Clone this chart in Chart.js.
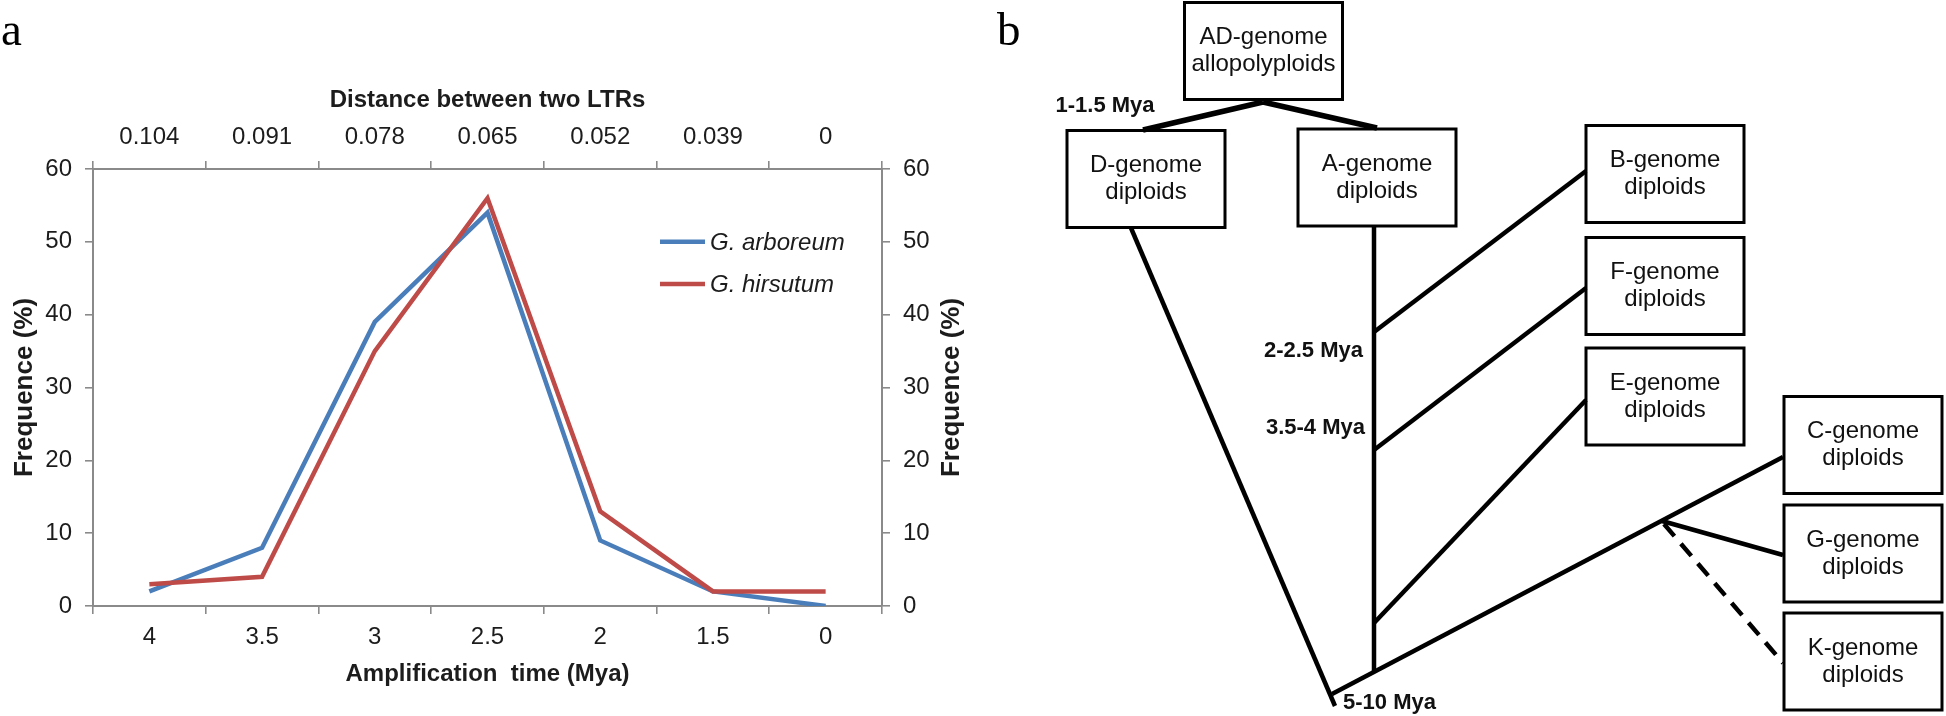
<!DOCTYPE html>
<html>
<head>
<meta charset="utf-8">
<script src="https://cdn.jsdelivr.net/npm/chart.js@4.4.1/dist/chart.umd.min.js"></script>
<style>
html,body{margin:0;padding:0;background:#fff;}
#wrap{position:relative;width:1946px;height:716px;overflow:hidden;}
canvas{position:absolute;top:0;}
#chA{left:0;}
#chB{left:980px;}
</style>
</head>
<body>
<div id="wrap">
  <canvas id="chA" width="980" height="716"></canvas>
  <canvas id="chB" width="966" height="716"></canvas>
</div>
<script>
// ---------- panel a data ----------
const ageLabels  = ['4', '3.5', '3', '2.5', '2', '1.5', '0'];
const distLabels = ['0.104', '0.091', '0.078', '0.065', '0.052', '0.039', '0'];
const arboreum   = [2, 8, 39, 54, 9, 2, 0];
const hirsutum   = [3, 4, 35, 56, 13, 2, 2];
const freqMin = 0, freqMax = 60, freqStep = 10;

// ---------- panel b data (diagram units) ----------
const boxTop    = ['AD-genome', 'D-genome', 'A-genome', 'B-genome', 'F-genome', 'E-genome', 'C-genome', 'G-genome', 'K-genome'];
const boxBottom = ['allopolyploids', 'diploids', 'diploids', 'diploids', 'diploids', 'diploids', 'diploids', 'diploids', 'diploids'];
const boxX      = [283.5, 166, 397, 685, 685, 685, 883, 883, 883];
const boxY      = [51, 179, 177.5, 174, 286, 396.5, 445, 553.5, 661.5];
// branches: x0, y0, x1, y1, dashed
const branches = [
  [283, 102, 163, 130, 0],
  [283, 102, 397, 128, 0],
  [151, 228, 355, 706, 0],
  [352, 694, 803, 457, 0],
  [394, 227, 394, 671, 0],
  [394, 332, 606, 171, 0],
  [394, 450, 606, 288, 0],
  [394, 623, 606, 400, 0],
  [682, 521, 803, 555, 0],
  [684, 524, 803, 663, 1]
];
const dateText  = ['1-1.5 Mya', '2-2.5 Mya', '3.5-4 Mya', '5-10 Mya'];
const dateX     = [125, 383, 385, 363];
const dateY     = [106, 351, 428, 703];
const dateAlign = ['center', 'right', 'right', 'left'];

const SANS  = '"Liberation Sans", Arial, Helvetica, sans-serif';
const SERIF = '"Liberation Serif", "Times New Roman", serif';
const AXIS = '#8a8a8a', INK = '#1c1c1c';
const BLUE = '#4a7ebb', RED = '#be4b48';

function axisStyle(extra){
  return Object.assign({
    grid:{drawOnChartArea:false, drawTicks:true, tickLength:8, color:AXIS, lineWidth:1.6},
    border:{display:true, color:AXIS, width:2}
  }, extra);
}

const tickFont = {family:SANS, size:24};
const titleFont = {family:SANS, size:24, weight:'bold'};

const panelA = {
  id:'panelA',
  afterDraw(chart){
    const {ctx, chartArea:a, scales} = chart;
    ctx.save();
    // rotated y titles (both read bottom to top)
    ctx.font = 'bold 26px ' + SANS;
    ctx.fillStyle = INK;
    ctx.textAlign = 'center';
    ctx.textBaseline = 'middle';
    const cy = (a.top + a.bottom) / 2;
    [scales.y.left + 25, scales.y2.right - 28].forEach(cx => {
      ctx.save();
      ctx.translate(cx, cy);
      ctx.rotate(-Math.PI / 2);
      ctx.fillText('Frequence (%)', 0, 0);
      ctx.restore();
    });
    // legend
    const lx = a.left + 567, ly = [scales.y.getPixelForValue(50), scales.y.getPixelForValue(44.2)];
    chart.data.datasets.forEach((ds, i) => {
      ctx.strokeStyle = ds.borderColor;
      ctx.lineWidth = 4.5;
      ctx.beginPath(); ctx.moveTo(lx, ly[i]); ctx.lineTo(lx + 45, ly[i]); ctx.stroke();
      ctx.font = 'italic 24px ' + SANS;
      ctx.fillStyle = INK;
      ctx.textAlign = 'left';
      ctx.fillText(ds.label, lx + 50, ly[i] + 1);
    });
    // panel letter
    ctx.font = '47px ' + SERIF;
    ctx.fillStyle = '#000';
    ctx.textBaseline = 'alphabetic';
    ctx.fillText('a', 1, 45);
    ctx.restore();
  }
};

new Chart(document.getElementById('chA'), {
  type:'line',
  data:{
    labels: ageLabels,
    datasets:[
      {label:'G. arboreum', data:arboreum, borderColor:BLUE, borderWidth:4.5, pointRadius:0, tension:0, order:2, xAxisID:'x', yAxisID:'y'},
      {label:'G. hirsutum', data:hirsutum, borderColor:RED, borderWidth:4.5, pointRadius:0, tension:0, order:1, xAxisID:'x', yAxisID:'y'}
    ]
  },
  options:{
    responsive:false, animation:false, devicePixelRatio:1, events:[],
    layout:{padding:0},
    plugins:{legend:{display:false}, tooltip:{enabled:false}},
    scales:{
      x: axisStyle({type:'category', position:'bottom', offset:true,
        grid:{drawOnChartArea:false, drawTicks:true, tickLength:8, color:AXIS, lineWidth:1.6, offset:true},
        ticks:{color:INK, font:tickFont, padding:9, maxRotation:0, autoSkip:false},
        title:{display:true, text:'Amplification  time (Mya)', color:INK, font:titleFont, padding:{top:0, bottom:27}},
        afterFit:s => { s.height = 110; }}),
      x2: axisStyle({type:'category', labels:distLabels, position:'top', offset:true,
        grid:{drawOnChartArea:false, drawTicks:true, tickLength:8, color:AXIS, lineWidth:1.6, offset:true},
        ticks:{color:INK, font:tickFont, padding:9, maxRotation:0, autoSkip:false},
        title:{display:true, text:'Distance between two LTRs', color:INK, font:titleFont, padding:{top:86, bottom:0}},
        afterFit:s => { s.height = 169; }}),
      y: axisStyle({position:'left', min:freqMin, max:freqMax,
        ticks:{stepSize:freqStep, color:INK, font:tickFont, padding:13},
        afterFit:s => { s.width = 93; }}),
      y2: axisStyle({position:'right', min:freqMin, max:freqMax,
        ticks:{stepSize:freqStep, color:INK, font:tickFont, padding:13},
        afterFit:s => { s.width = 98; }})
    }
  },
  plugins:[panelA]
});

// ---------- panel b ----------
const BOX_W = 158, BOX_H = 97;
const treeSets = [];
branches.forEach(b => treeSets.push({
  data:[{x:b[0], y:b[1]}, {x:b[2], y:b[3]}],
  showLine:true, pointRadius:0, borderColor:'#000',
  borderWidth: b[1] < 110 ? 5.5 : 4.5,
  borderDash: b[4] ? [16, 10] : [],
  borderCapStyle:'butt'
}));
boxX.forEach((cx, i) => {
  const cy = boxY[i], hw = BOX_W / 2, hh = BOX_H / 2;
  treeSets.push({
    data:[{x:cx-hw, y:cy-hh}, {x:cx+hw, y:cy-hh}, {x:cx+hw, y:cy+hh}, {x:cx-hw, y:cy+hh}, {x:cx-hw, y:cy-hh}],
    showLine:true, pointRadius:0, borderColor:'#000', borderWidth:3,
    borderCapStyle:'square', borderJoinStyle:'miter'
  });
});

const panelB = {
  id:'panelB',
  afterDatasetsDraw(chart){
    const {ctx, scales:{x, y}} = chart;
    ctx.save();
    ctx.fillStyle = '#111';
    ctx.textAlign = 'center';
    ctx.textBaseline = 'middle';
    ctx.font = '24px ' + SANS;
    boxX.forEach((cx, i) => {
      const px = x.getPixelForValue(cx), py = y.getPixelForValue(boxY[i]);
      ctx.fillText(boxTop[i], px, py - 13.5);
      ctx.fillText(boxBottom[i], px, py + 13.5);
    });
    ctx.font = 'bold 22px ' + SANS;
    dateText.forEach((t, i) => {
      ctx.textAlign = dateAlign[i];
      ctx.fillText(t, x.getPixelForValue(dateX[i]), y.getPixelForValue(dateY[i]));
    });
    ctx.font = '47px ' + SERIF;
    ctx.fillStyle = '#000';
    ctx.textAlign = 'left';
    ctx.textBaseline = 'alphabetic';
    ctx.fillText('b', 17, 45);
    ctx.restore();
  }
};

new Chart(document.getElementById('chB'), {
  type:'scatter',
  data:{datasets:treeSets},
  options:{
    responsive:false, animation:false, devicePixelRatio:1, events:[],
    layout:{padding:0},
    plugins:{legend:{display:false}, tooltip:{enabled:false}},
    scales:{
      x:{type:'linear', min:0, max:966, display:false},
      y:{type:'linear', min:0, max:716, reverse:true, display:false}
    }
  },
  plugins:[panelB]
});
</script>
</body>
</html>
